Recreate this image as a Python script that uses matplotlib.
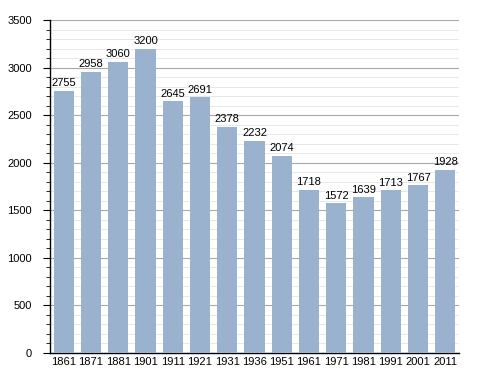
import numpy as np
import matplotlib
matplotlib.use('Agg')
from matplotlib import pyplot as plt
from matplotlib.ticker import MultipleLocator

years = ['1861', '1871', '1881', '1901', '1911', '1921', '1931', '1936',
         '1951', '1961', '1971', '1981', '1991', '2001', '2011']
population = [2755, 2958, 3060, 3200, 2645, 2691, 2378, 2232,
              2074, 1718, 1572, 1639, 1713, 1767, 1928]

plt.rcParams['font.family'] = ['Liberation Sans', 'DejaVu Sans']

fig = plt.figure(figsize=(4.88, 3.73), dpi=100)
ax = fig.add_axes([0.1025, 0.0536, 0.838, 0.8928])

x = np.arange(len(years))
ax.bar(x, population, width=0.74, color='#9bb2cf', zorder=3)
for xi, v in zip(x, population):
    ax.text(xi, v + 25, str(v), ha='center', va='bottom', fontsize=8, zorder=4)

ax.set_xlim(-0.5, len(years) - 0.5)
ax.set_ylim(0, 3500)
ax.yaxis.set_major_locator(MultipleLocator(500))
ax.yaxis.set_minor_locator(MultipleLocator(100))
ax.grid(axis='y', which='major', color='#a8a8a8', linewidth=0.8, zorder=1)
ax.grid(axis='y', which='minor', color='#e4e4e4', linewidth=0.6, zorder=1)
ax.set_xticks(x)
ax.set_xticklabels(years)
ax.tick_params(axis='x', length=0, labelsize=8, pad=3)
ax.tick_params(axis='y', which='major', length=5, labelsize=8, pad=8)
ax.tick_params(axis='y', which='minor', length=3)

for s in ['top', 'right']:
    ax.spines[s].set_visible(False)
ax.spines['left'].set_linewidth(1)
ax.spines['bottom'].set_linewidth(1)

fig.savefig('out.png', dpi=100)
